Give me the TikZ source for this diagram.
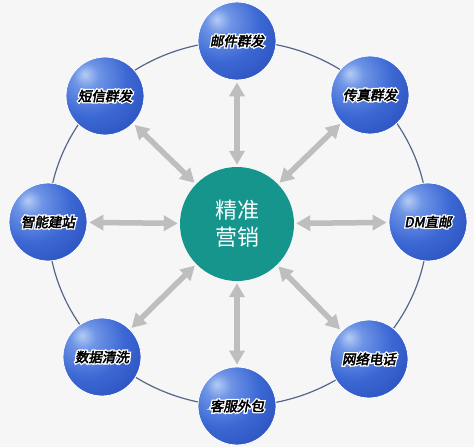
\documentclass[tikz,border=0pt]{standalone}
\usepackage{fontspec}
\newfontfamily\cjk{Noto Sans CJK SC}
\newfontfamily\cjkb{Noto Sans CJK SC}[FakeBold=3.2,FakeSlant=0.18]
\newfontfamily\cjkh{Noto Sans CJK SC}[FakeBold=22,FakeSlant=0.18]
\usetikzlibrary{arrows.meta,calc}
\definecolor{bg}{HTML}{F6F6F6}
\definecolor{teal1}{HTML}{16958D}
\definecolor{ringc}{HTML}{56668A}
\definecolor{arrc}{HTML}{BEBEBE}
\definecolor{bl1}{HTML}{B4CBF4}
\definecolor{bl2}{HTML}{6F95E6}
\definecolor{bl3}{HTML}{3C68D4}
\definecolor{bl4}{HTML}{2447B4}
\definecolor{bl5}{HTML}{1A3597}
\pgfdeclareradialshading{ballblue}{\pgfpoint{-13bp}{14bp}}{%
  color(0bp)=(bl1); color(8bp)=(bl2); color(24bp)=(bl3); color(48bp)=(bl4); color(66bp)=(bl5); color(100bp)=(bl5)}
\newcommand\halo[1]{\rlap{\color{white}\cjkh\fontsize{13.5}{15}\selectfont #1}#1}
\tikzset{
  ball/.style={circle, minimum size=78pt, inner sep=0pt, shading=ballblue, draw=white, line width=0.8pt},
  lbl/.style={font=\cjkb\fontsize{13.5}{15}\selectfont, inner sep=0pt, text=black},
  hub/.style={circle, minimum size=114pt, inner sep=0pt, fill=teal1, text=white, align=center,
              font=\cjk\fontsize{22}{27}\selectfont},
  ring/.style={draw=ringc, line width=1.2pt},
  arr/.style={draw=arrc, line width=5.5pt,
              {Triangle[width=15pt,length=14pt]}-{Triangle[width=15pt,length=14pt]},
              shorten >=2pt, shorten <=2pt}
}
\newcommand\ballnode[3]{%
  \node[ball] (#1) at (#2) {};
  \node[lbl] (#1t) at (#1.center) {\halo{#3}};
}
\begin{document}
\begin{tikzpicture}[x=1pt,y=-1pt]
\fill[bg] (0,0) rectangle (474,447);
\useasboundingbox (0,0) rectangle (474,447);
\draw[ring] (238,223.5) ellipse [x radius=190pt, y radius=182.5pt];
\node[hub] (c) at (237,224) {精准\\营销};
\ballnode{n1}{237,41}{邮件群发}
\ballnode{n2}{370,95}{传真群发}
\ballnode{n3}{428,222}{DM直邮}
\ballnode{n4}{369,359}{网络电话}
\ballnode{n5}{237,406}{客服外包}
\ballnode{n6}{102,357}{数据清洗}
\ballnode{n7}{48,222}{智能建站}
\ballnode{n8}{105,96}{短信群发}
\foreach \n in {n1,n2,n3,n4,n5,n6,n7,n8} \draw[arr] (c) -- (\n);
\end{tikzpicture}
\end{document}
